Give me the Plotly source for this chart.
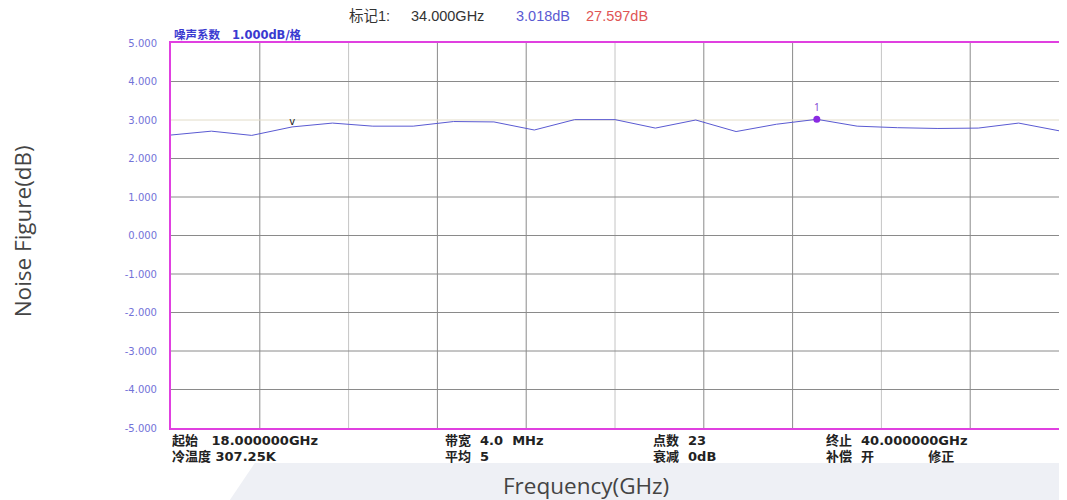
import plotly.graph_objects as go

# ---- data ----
freq_ghz = [18, 19, 20, 21, 22, 23, 24, 25, 26, 27, 28, 29, 30, 31, 32, 33, 34, 35, 36, 37, 38, 39, 40]
noise_fig_db = [2.61, 2.71, 2.60, 2.82, 2.92, 2.84, 2.84, 2.96, 2.95, 2.74, 3.01, 3.01, 2.79, 3.00,
                2.70, 2.89, 3.018, 2.84, 2.80, 2.78, 2.79, 2.92, 2.72]
marker_freq = [34]
marker_val = [3.018]
ref_marker_freq = [21]
ref_marker_val = [2.93]
y_tick_vals = [5, 4, 3, 2, 1, 0, -1, -2, -3, -4, -5]
y_tick_text = ["5.000", "4.000", "3.000", "2.000", "1.000", "0.000", "-1.000", "-2.000", "-3.000", "-4.000", "-5.000"]
x_grid_dark = [20.2, 24.6, 26.8, 31.2, 33.4, 37.8]
x_grid_light = [22.4, 29.0, 35.6]
y_grid_dark = [4, 2, 1, 0, -1, -2, -3, -4]
y_grid_light = [3]

OFF = 8  # page offset of the figure div (body margin)
W, H = 1067 - OFF, 500 - OFF
L, R, T, B = 171 - OFF, 1061 - OFF, 43 - OFF, 428 - OFF
def px(x):
    return (x - OFF - L) / (R - L)
def py(y):
    return (B - (y - OFF)) / (B - T)

fig = go.Figure()
fig.add_trace(go.Scatter(x=freq_ghz, y=noise_fig_db, mode="lines",
                         line=dict(color="#5a5ad2", width=1), hoverinfo="skip", showlegend=False))
fig.add_trace(go.Scatter(x=marker_freq, y=marker_val, mode="markers+text", text=["1"],
                         textposition="top center", textfont=dict(size=10, color="#7a3ad0"),
                         marker=dict(color="#8a2be2", size=7), showlegend=False))
fig.add_trace(go.Scatter(x=ref_marker_freq, y=ref_marker_val, mode="text", text=["v"],
                         textfont=dict(size=10, color="#222", family="DejaVu Sans"), showlegend=False))

shapes = []
shapes.append(dict(type="path", xref="paper", yref="paper",
                   path=f"M {px(255)} {py(463)} L {px(1067)} {py(463)} L {px(1067)} {py(500)} L {px(230)} {py(500)} Z",
                   fillcolor="#eef0f5", line_width=0, layer="below"))
for xv in x_grid_dark:
    shapes.append(dict(type="line", xref="x", yref="paper", x0=xv, x1=xv, y0=0, y1=1,
                       line=dict(color="#8a8a8a", width=1), layer="below"))
for xv in x_grid_light:
    shapes.append(dict(type="line", xref="x", yref="paper", x0=xv, x1=xv, y0=0, y1=1,
                       line=dict(color="#c4c4c4", width=1), layer="below"))
for yv in y_grid_dark:
    shapes.append(dict(type="line", xref="paper", yref="y", x0=0, x1=1, y0=yv, y1=yv,
                       line=dict(color="#8a8a8a", width=1), layer="below"))
for yv in y_grid_light:
    shapes.append(dict(type="line", xref="paper", yref="y", x0=0, x1=1, y0=yv, y1=yv,
                       line=dict(color="#e2dcc8", width=1), layer="below"))

ann = []
def txt(x, y, s, size=11, color="#222", bold=False, family="DejaVu Sans, Noto Sans CJK SC"):
    ann.append(dict(xref="paper", yref="paper", x=px(x), y=py(y), text=(f"<b>{s}</b>" if bold else s),
                    showarrow=False, xanchor="left", yanchor="middle",
                    font=dict(size=size, color=color, family=family)))

hdr_font = "Liberation Sans, Noto Sans CJK SC"
txt(347, 16, "标记1:", 14.5, "#333", family=hdr_font)
txt(410, 16, "34.000GHz", 14.5, "#333", family=hdr_font)
txt(515, 16, "3.018dB", 14.5, "#5a5ad2", family=hdr_font)
txt(585, 16, "27.597dB", 14.5, "#e05555", family=hdr_font)
txt(172, 35, "噪声系数&nbsp;&nbsp;&nbsp;1.000dB/格", 11.5, "#3a3ad0", bold=True)

bf = 13
txt(170, 440, "起始&nbsp;&nbsp;&nbsp;18.000000GHz", bf, "#222", bold=True)
txt(170, 457, "冷温度 307.25K", bf, "#222", bold=True)
txt(444, 440, "带宽&nbsp;&nbsp;4.0&nbsp;&nbsp;MHz", bf, "#222", bold=True)
txt(444, 457, "平均&nbsp;&nbsp;5", bf, "#222", bold=True)
txt(652, 440, "点数&nbsp;&nbsp;23", bf, "#222", bold=True)
txt(652, 457, "衰减&nbsp;&nbsp;0dB", bf, "#222", bold=True)
txt(825, 440, "终止&nbsp;&nbsp;40.000000GHz", bf, "#222", bold=True)
txt(825, 457, "补偿&nbsp;&nbsp;开&nbsp;&nbsp;&nbsp;&nbsp;&nbsp;&nbsp;&nbsp;&nbsp;&nbsp;&nbsp;&nbsp;&nbsp;修正", bf, "#222", bold=True)

ann.append(dict(xref="paper", yref="paper", x=px(587), y=py(485), text="Frequency(GHz)", showarrow=False,
                xanchor="center", yanchor="middle", font=dict(size=22.5, color="#444", family="Open Sans")))
ann.append(dict(xref="paper", yref="paper", x=px(22), y=py(231), text="Noise Figure(dB)", showarrow=False,
                textangle=-90, xanchor="center", yanchor="middle",
                font=dict(size=22.5, color="#444", family="Open Sans")))

fig.update_layout(
    width=W, height=H,
    margin=dict(l=L, r=W - R, t=T, b=H - B),
    paper_bgcolor="white", plot_bgcolor="white",
    shapes=shapes, annotations=ann,
    xaxis=dict(range=[18, 40], showgrid=False, zeroline=False, showticklabels=False, ticks="",
               showline=True, mirror=True, linecolor="#e040e0", linewidth=2),
    yaxis=dict(range=[-5, 5], showgrid=False, zeroline=False, tickvals=y_tick_vals, ticktext=y_tick_text,
               tickfont=dict(size=10, color="#7272d8", family="DejaVu Sans"), ticks="", ticklabelstandoff=10,
               showline=True, mirror=True, linecolor="#e040e0", linewidth=2),
)

fig.write_html("out.html")
